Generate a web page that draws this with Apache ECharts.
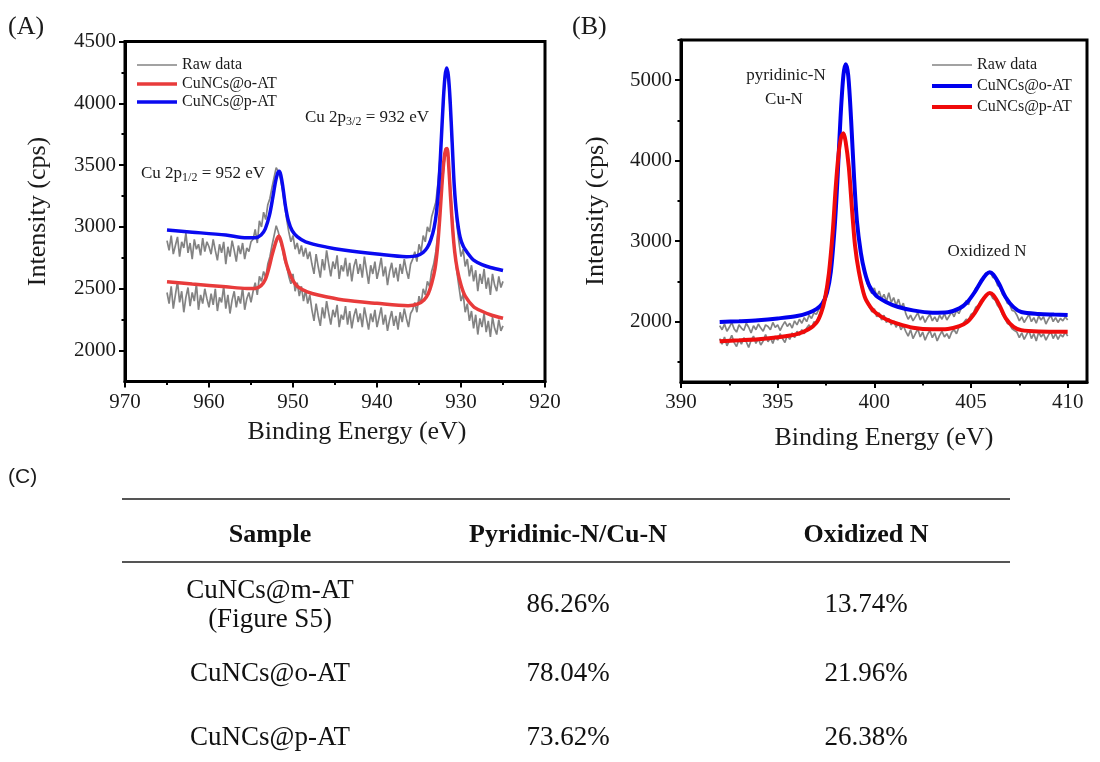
<!DOCTYPE html>
<html>
<head>
<meta charset="utf-8">
<script src="https://cdn.jsdelivr.net/npm/echarts@6/dist/echarts.min.js"></script>
<style>
html, body { margin: 0; padding: 0; background: #fff; }
#wrap { position: relative; width: 1100px; height: 762px; overflow: hidden; background: #fff; }
#cuChart { position: absolute; left: 0; top: 0; width: 580px; height: 460px; z-index: 1; }
#nChart { position: absolute; left: 550px; top: 0; width: 550px; height: 460px; z-index: 2; }
#tableChart { position: absolute; left: 0; top: 460px; width: 1100px; height: 302px; z-index: 3; }
</style>
</head>
<body>
<div id="wrap">
  <div id="cuChart"></div>
  <div id="nChart"></div>
  <div id="tableChart"></div>
</div>
<script>
// ---------- shared names ----------
const seriesNames = ['Raw data', 'CuNCs@o-AT', 'CuNCs@p-AT'];

// ---------- (A) Cu 2p spectra ----------
// raw scans sampled every 0.25 eV from 965 eV down to 925 eV
const cuRawStart = 965;
const cuRawStep = -0.25;
const cuRawUpper = [
  2890,2810,2930,2780,2850,2920,2760,2880,2830,2950,2790,2870,2740,2900,2820,2860,2770,2910,2800,2880,2840,
  2780,2900,2810,2730,2860,2790,2880,2700,2840,2760,2890,2810,2720,2850,2780,2870,2740,2830,2800,2880,
  2900,2980,2870,3050,3000,3120,3060,3180,
  3230,3320,3400,3480,3450,3390,3300,3180,3060,
  2960,2880,2930,2820,2870,2780,2850,2760,2830,2740,2800,
  2700,2620,2780,2680,2590,2740,2650,2810,2700,2600,2720,2660,2770,2580,2690,2640,2750,2600,2710,2560,
  2680,2740,2620,2700,2590,2760,2650,2540,2690,2620,2720,2580,2660,2750,2600,2680,2530,2640,2710,2590,
  2670,2560,2700,2620,2740,2650,2580,2700,
  2740,2800,2720,2860,2800,2930,2880,3000,2960,3080,3140,
  3200,3350,3560,3820,4100,4260,4180,3900,3560,3250,3020,
  2880,2760,2820,2680,2740,2600,2690,2560,2650,2480,2620,2540,2660,2500,2590,2450,2620,2530,2480,2600,2510,2560
];
const cuRawLower = [
  2470,2380,2520,2340,2450,2560,2390,2480,2310,2430,2510,2360,2470,2400,2540,2330,2450,2380,2500,2420,2350,
  2460,2370,2500,2320,2430,2390,2520,2340,2450,2300,2410,2480,2350,2440,2380,2510,2330,2420,2470,2390,
  2480,2550,2450,2600,2560,2640,2590,2700,
  2760,2850,2930,3010,2960,2880,2820,2730,2680,
  2600,2540,2620,2480,2550,2440,2520,2400,2490,2380,2450,
  2330,2240,2380,2280,2200,2350,2260,2400,2300,2210,2330,2270,2370,2190,2290,2250,2360,2210,2320,2180,
  2280,2340,2230,2300,2190,2350,2260,2170,2300,2230,2330,2190,2270,2350,2210,2290,2160,2250,2320,2200,
  2280,2170,2310,2230,2340,2260,2190,2300,
  2330,2390,2310,2440,2380,2500,2450,2560,2520,2640,2700,
  2800,2950,3120,3330,3520,3620,3540,3300,3040,2800,2640,
  2520,2400,2460,2310,2380,2240,2320,2180,2290,2130,2260,2190,2300,2150,2240,2110,2270,2180,2130,2250,2160,2200
];
// fitted envelopes [binding energy, intensity]
const cuFitOAT = [
  [965,2557],[962,2538],[958,2516],[955.5,2503],[954.5,2503],[953.8,2525],[953.3,2575],[952.9,2660],
  [952.5,2770],[952.15,2855],[951.9,2905],[951.7,2926],[951.45,2890],[951.15,2810],[950.8,2705],[950.4,2625],
  [949.9,2555],[949.4,2516],[948.3,2475],[947,2449],[944,2409],[940,2382],[936.3,2363],[935.2,2375],
  [934.4,2410],[933.9,2460],[933.5,2540],[933.1,2660],[932.8,2830],[932.5,3100],[932.25,3360],[932.0,3560],
  [931.8,3630],[931.65,3635],[931.45,3480],[931.25,3250],[931.0,2990],[930.75,2800],[930.45,2660],[930.0,2530],
  [929.5,2440],[928.5,2355],[927.5,2318],[926.5,2290],[925,2262]
];
const cuFitPAT = [
  [965,2975],[962,2958],[958,2934],[955.5,2912],[954.5,2912],[953.8,2935],[953.3,2985],[952.8,3095],
  [952.4,3240],[952.1,3360],[951.85,3430],[951.65,3450],[951.45,3420],[951.2,3320],[950.9,3170],[950.55,3050],
  [950.1,2970],[949.5,2922],[948.5,2880],[946,2837],[944,2813],[940,2781],[936.5,2760],[935.3,2766],
  [934.5,2795],[934,2835],[933.6,2895],[933.2,2995],[932.9,3130],[932.6,3380],[932.35,3700],[932.1,4030],
  [931.9,4220],[931.7,4285],[931.5,4220],[931.3,4030],[931.05,3680],[930.8,3330],[930.5,3090],[930.1,2915],
  [929.7,2840],[929.0,2770],[928.5,2732],[927.5,2695],[926.5,2672],[925,2648]
];
const cuXLabels = [970, 960, 950, 940, 930, 920];
const cuXMinor = [965, 955, 945, 935, 925];
const cuYLabels = [2000, 2500, 3000, 3500, 4000, 4500];
const cuYMinor = [2250, 2750, 3250, 3750, 4250];

// ---------- (B) N 1s spectra ----------
// raw scans sampled every 0.125 eV from 392 eV to 410 eV
const nRawStart = 392;
const nRawStep = 0.125;
const nRawUpper = [
  1950,1900,1970,1880,1930,1990,1910,1870,1960,1920,1890,1980,1930,1860,1950,1900,1970,1920,1880,1960,
  1940,1900,1990,1930,1960,1890,1950,2000,1940,1980,1920,2010,1960,2030,1980,2050,2000,
  2080,2040,2110,2090,2150,2200,2260,2350,
  2480,2650,2950,3350,3900,4500,5000,5180,5050,4700,4100,3600,3200,2950,2750,
  2600,2480,2400,2350,2420,2310,2380,2280,2340,2250,2360,2240,2300,2200,2280,2170,2230,
  2100,2030,2080,2010,2060,2110,2020,2070,1990,2050,2090,2010,2060,2000,2080,2030,2100,2020,2070,2120,
  2060,2140,2100,2170,
  2200,2260,2210,2310,2340,2420,2440,2520,2540,2600,2610,2620,2550,2540,2450,2430,2340,2310,2230,2210,2140,2130,
  2080,2010,2060,1990,2040,2090,2000,2050,1980,2070,2020,2060,1970,2030,2080,2000,2050,1990,2040,2010,2060,2020
];
const nRawLower = [
  1790,1720,1810,1700,1760,1830,1740,1690,1780,1720,1800,1750,1680,1770,1820,1730,1790,1710,1760,1840,
  1750,1800,1730,1820,1770,1850,1790,1740,1830,1780,1860,1800,1880,1830,1900,1850,1920,
  1960,1910,2000,1980,2060,2150,2260,2400,
  2560,2860,3200,3650,4000,4250,4330,4250,4020,3700,3290,2950,2730,2540,2420,
  2330,2250,2180,2120,2160,2060,2110,2020,2080,1990,2040,1960,2010,1930,1990,1900,1950,
  1880,1820,1900,1790,1850,1910,1810,1870,1770,1840,1890,1800,1860,1760,1830,1880,1810,1850,1790,1870,
  1900,1850,1930,1950,
  1990,2030,2020,2090,2110,2180,2200,2260,2290,2330,2340,2350,2290,2270,2200,2160,2090,2050,1980,1960,1910,1890,
  1870,1800,1860,1780,1840,1890,1790,1850,1760,1870,1810,1850,1770,1830,1880,1790,1850,1780,1840,1810,1870,1820
];
const nFitOAT = [
  [392,1995],[393,2005],[394,2018],[395,2040],[396,2070],[396.6,2110],[397.0,2155],[397.3,2220],
  [397.55,2360],[397.75,2620],[397.95,3180],[398.1,3800],[398.25,4530],[398.4,5060],[398.52,5200],[398.65,5060],
  [398.8,4500],[398.95,3800],[399.1,3250],[399.3,2860],[399.5,2620],[399.75,2440],[400.1,2320],[400.6,2245],
  [401.2,2185],[402,2140],[403,2112],[403.8,2118],[404.4,2165],[404.8,2240],[405.2,2370],[405.55,2510],
  [405.8,2590],[405.97,2615],[406.15,2585],[406.45,2470],[406.8,2300],[407.2,2180],[407.6,2120],[408.5,2095],
  [409.3,2088],[410,2083]
];
const nFitPAT = [
  [392,1755],[393,1768],[394,1782],[395,1806],[396,1845],[396.6,1905],[397.0,1985],[397.25,2110],
  [397.45,2290],[397.65,2600],[397.85,3120],[398.0,3660],[398.15,4080],[398.28,4290],[398.4,4340],[398.52,4230],
  [398.68,3920],[398.85,3380],[399.0,2950],[399.2,2620],[399.5,2310],[399.8,2180],[400.1,2104],[400.6,2030],
  [401.2,1975],[402,1925],[403,1905],[403.8,1910],[404.4,1945],[404.8,1995],[405.2,2110],[405.55,2250],
  [405.8,2330],[405.97,2355],[406.15,2330],[406.45,2215],[406.8,2040],[407.2,1935],[407.6,1895],[408.5,1878],
  [409.3,1876],[410,1876]
];
const nXLabels = [390, 395, 400, 405, 410];
const nXMinor = [392.5, 397.5, 402.5, 407.5];
const nYLabels = [2000, 3000, 4000, 5000];
const nYMinor = [1500, 2500, 3500, 4500, 5500];

// ---------- (C) nitrogen species table ----------
const tableHeader = ['Sample', 'Pyridinic-N/Cu-N', 'Oxidized N'];
const sampleNames = ['CuNCs@m-AT\n(Figure S5)', 'CuNCs@o-AT', 'CuNCs@p-AT'];
const pyridinicShare = ['86.26%', '78.04%', '73.62%'];
const oxidizedShare = ['13.74%', '21.96%', '26.38%'];

// ---------- helpers ----------
const serif = 'Liberation Serif, Times New Roman, serif';
const ink = '#1b1b1b';

function rawPairs(start, step, values) {
  return values.map((v, i) => [+(start + i * step).toFixed(3), v]);
}

function axisPair(dim, cfg) {
  const main = {
    type: 'value', min: cfg.min, max: cfg.max, inverse: !!cfg.inverse,
    position: dim === 'x' ? 'bottom' : 'left',
    name: cfg.name, nameLocation: 'middle', nameGap: cfg.nameGap,
    nameRotate: dim === 'y' ? 90 : 0,
    nameTextStyle: { fontFamily: serif, fontSize: 26, color: ink, padding: cfg.namePad || 0 },
    axisLine: { show: true, onZero: false, lineStyle: { color: '#000', width: 3 } },
    axisTick: { show: true, inside: false, length: 6, customValues: cfg.labels,
                lineStyle: { color: '#000', width: 2 } },
    axisLabel: { show: true, customValues: cfg.labels, margin: dim === 'x' ? 10 : 9,
                 formatter: (v) => String(v),
                 fontFamily: serif, fontSize: 21, color: ink },
    splitLine: { show: false }
  };
  const minor = {
    type: 'value', min: cfg.min, max: cfg.max, inverse: !!cfg.inverse,
    position: dim === 'x' ? 'bottom' : 'left',
    axisLine: { show: false, onZero: false },
    axisTick: { show: true, inside: false, length: 3.5, customValues: cfg.minor,
                lineStyle: { color: '#000', width: 2 } },
    axisLabel: { show: false },
    splitLine: { show: false }
  };
  return [main, minor];
}

function rawSeries(data) {
  return {
    name: seriesNames[0], type: 'line', data: data, symbol: 'none',
    lineStyle: { color: '#838383', width: 1.7 }, itemStyle: { color: '#838383' },
    z: 1
  };
}

function fitSeries(name, data, color, width) {
  return {
    name: name, type: 'line', data: data, symbol: 'none', smooth: 0.3,
    lineStyle: { color: color, width: width }, itemStyle: { color: color },
    z: 3
  };
}

// two legend blocks: a thin swatch for the raw trace, thick swatches for the fits
function legendBlocks(left, rawTop, fitTop, fitGap, fitThickness) {
  const common = {
    orient: 'vertical', left: left, icon: 'rect', itemWidth: 40, selectedMode: false, padding: 0,
    textStyle: { fontFamily: serif, fontSize: 16, color: ink }
  };
  return [
    Object.assign({}, common, { top: rawTop, itemHeight: 1.6, data: [seriesNames[0]] }),
    Object.assign({}, common, { top: fitTop, itemHeight: fitThickness, itemGap: fitGap,
                                data: [seriesNames[1], seriesNames[2]] })
  ];
}

function label(x, y, text, opts) {
  return {
    type: 'text', x: x, y: y, silent: true,
    style: Object.assign({ text: text, fontFamily: serif, fontSize: 17, fill: ink,
                           verticalAlign: 'middle', align: 'left' }, opts || {})
  };
}

function subLabel(x, y, head, sub, tail) {
  return {
    type: 'text', x: x, y: y, silent: true,
    style: {
      text: '{m|' + head + '}{s|' + sub + '}{m|' + tail + '}',
      verticalAlign: 'middle', align: 'left',
      rich: {
        m: { fontFamily: serif, fontSize: 17, fill: ink, lineHeight: 20 },
        s: { fontFamily: serif, fontSize: 12, fill: ink, verticalAlign: 'bottom', lineHeight: 14 }
      }
    }
  };
}

// ---------- chart A ----------
const cuX = axisPair('x', { min: 920, max: 970, inverse: true, labels: cuXLabels, minor: cuXMinor,
                            name: 'Binding Energy (eV)', nameGap: 38, namePad: [0, 0, 0, 44] });
const cuY = axisPair('y', { min: 1750, max: 4500, labels: cuYLabels, minor: cuYMinor,
                            name: 'Intensity (cps)', nameGap: 74 });
const cuChart = echarts.init(document.getElementById('cuChart'), null, { renderer: 'canvas' });
cuChart.setOption({
  animation: false,
  backgroundColor: 'transparent',
  grid: { left: 125, top: 41.5, width: 420, height: 340, show: true, outerBoundsMode: 'none',
          borderColor: '#000', borderWidth: 3, backgroundColor: 'transparent' },
  xAxis: cuX,
  yAxis: cuY,
  legend: legendBlocks(137, 57, 76, 2, 3.5),
  series: [
    rawSeries(rawPairs(cuRawStart, cuRawStep, cuRawUpper)),
    rawSeries(rawPairs(cuRawStart, cuRawStep, cuRawLower)),
    fitSeries(seriesNames[1], cuFitOAT, '#e83b3b', 3.5),
    fitSeries(seriesNames[2], cuFitPAT, '#0a0af0', 3.5)
  ],
  graphic: [
    label(8, 27, '(A)', { fontSize: 26 }),
    subLabel(141, 174, 'Cu 2p', '1/2', ' = 952 eV'),
    subLabel(305, 118, 'Cu 2p', '3/2', ' = 932 eV')
  ]
});

// ---------- chart B ----------
const nX = axisPair('x', { min: 390, max: 411, labels: nXLabels, minor: nXMinor,
                           name: 'Binding Energy (eV)', nameGap: 43 });
const nY = axisPair('y', { min: 1250, max: 5500, labels: nYLabels, minor: nYMinor,
                           name: 'Intensity (cps)', nameGap: 72 });
const nChart = echarts.init(document.getElementById('nChart'), null, { renderer: 'canvas' });
nChart.setOption({
  animation: false,
  backgroundColor: 'transparent',
  grid: { left: 131, top: 40, width: 406, height: 342, show: true, outerBoundsMode: 'none',
          borderColor: '#000', borderWidth: 3, backgroundColor: 'transparent' },
  xAxis: nX,
  yAxis: nY,
  legend: legendBlocks(382, 57, 78, 5, 4),
  series: [
    rawSeries(rawPairs(nRawStart, nRawStep, nRawUpper)),
    rawSeries(rawPairs(nRawStart, nRawStep, nRawLower)),
    fitSeries(seriesNames[1], nFitOAT, '#0000ee', 4),
    fitSeries(seriesNames[2], nFitPAT, '#f00a0a', 4)
  ],
  graphic: [
    label(22, 27, '(B)', { fontSize: 26 }),
    label(236, 76, 'pyridinic-N', { align: 'center' }),
    label(234, 100, 'Cu-N', { align: 'center' }),
    label(437, 252, 'Oxidized N', { align: 'center' })
  ]
});

// ---------- table C ----------
const colX = [270, 568, 866];
const rowY = [145, 214, 278];
const tableItems = [
  { type: 'text', x: 8, y: 17, silent: true,
    style: { text: '(C)', fontFamily: 'Liberation Sans, Arial, sans-serif', fontSize: 21,
             fill: ink, verticalAlign: 'middle', align: 'left' } },
  { type: 'line', silent: true, shape: { x1: 122, y1: 39, x2: 1010, y2: 39 },
    style: { stroke: '#555', lineWidth: 2 } },
  { type: 'line', silent: true, shape: { x1: 122, y1: 102, x2: 1010, y2: 102 },
    style: { stroke: '#555', lineWidth: 2 } }
];
tableHeader.forEach((h, c) => {
  tableItems.push({ type: 'text', x: colX[c], y: 75, silent: true,
    style: { text: h, fontFamily: serif, fontSize: 26, fontWeight: 'bold', fill: '#111',
             align: 'center', verticalAlign: 'middle' } });
});
sampleNames.forEach((name, r) => {
  const cells = [name, pyridinicShare[r], oxidizedShare[r]];
  cells.forEach((t, c) => {
    tableItems.push({ type: 'text', x: colX[c], y: rowY[r], silent: true,
      style: { text: t, fontFamily: serif, fontSize: 27, fill: '#111', lineHeight: 29,
               align: 'center', verticalAlign: 'middle' } });
  });
});
const tableChart = echarts.init(document.getElementById('tableChart'), null, { renderer: 'canvas' });
tableChart.setOption({ animation: false, backgroundColor: 'transparent', graphic: tableItems });
</script>
</body>
</html>
